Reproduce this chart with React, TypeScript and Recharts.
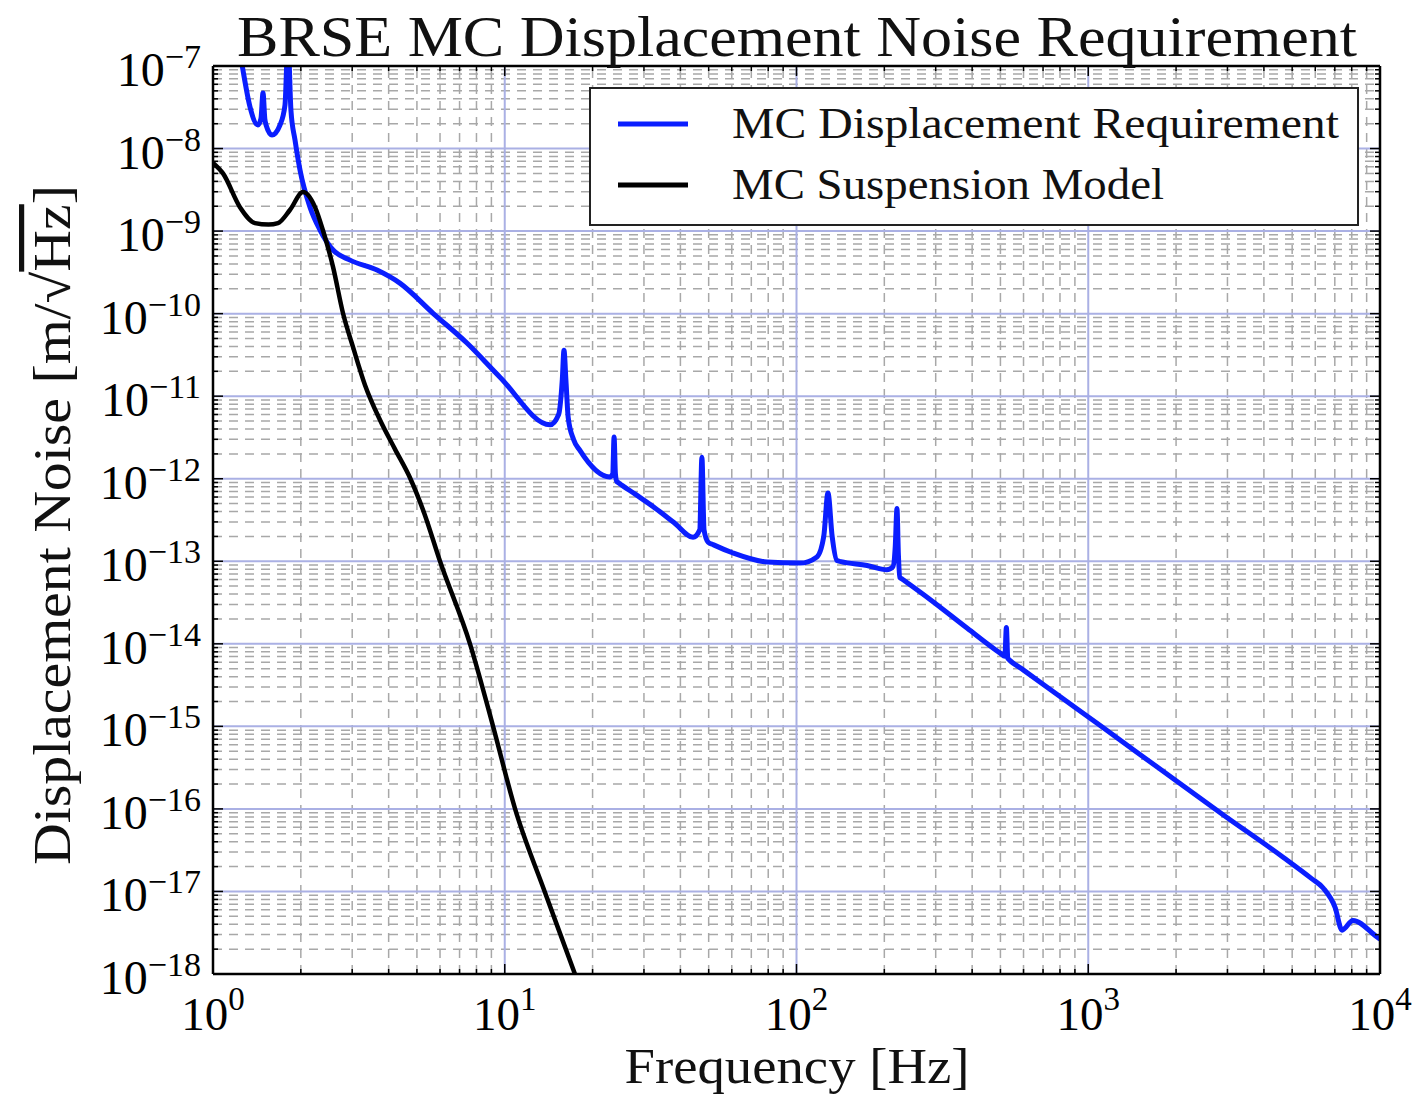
import React from 'react';
import { LineChart, Line, XAxis, YAxis, ReferenceLine, Legend } from 'recharts';

// ---------- data ----------
const reqFreq = [
  1.2, 1.267, 1.339, 1.426, 1.46, 1.484, 1.505, 1.52, 1.593, 1.697, 1.765, 1.807, 1.85, 1.91, 1.987,
  2.15, 2.327, 2.58, 2.95, 3.65, 4.37, 5.68, 7.42, 9.63, 14.3, 15.3, 15.75, 15.96, 16.2, 16.5, 17.2,
  18.1, 22.9, 23.45, 23.7, 23.95, 24.2, 24.6, 28, 32.8, 38, 44.2, 46.6, 47.4, 48.2, 49.8, 52, 60.6, 79.2, 102.8, 117.5,
  124, 128.2, 132.5, 137.6, 142, 174.5, 204, 214, 218, 221, 223.5, 226, 230, 240, 287, 384, 499, 518, 524, 530, 536,
  600, 800, 1096, 1762, 2897, 4653, 5800, 6386, 7015, 7412, 8076, 9840, 10000,
];
const reqVal = [
  3e-7, 8.9e-8, 3.2e-8, 1.93e-8, 2.3e-8, 4.7e-8, 2.3e-8, 1.93e-8, 1.46e-8, 1.93e-8, 3.37e-8, 2e-7, 2.9e-8, 1.27e-8, 5.5e-9,
  1.95e-9, 1.03e-9, 5.9e-10, 4.45e-10, 3.37e-10, 2.34e-10, 1.01e-10, 4.4e-11, 1.7e-11, 4.5e-12, 6e-12, 1.6e-11, 3.6e-11, 1.6e-11, 5.5e-12, 3.0e-12,
  2.2e-12, 1.05e-12, 1.15e-12, 3.2e-12, 1.15e-12, 9.3e-13, 8.9e-13, 6.5e-13, 4.4e-13, 2.95e-13, 1.95e-13, 2.4e-13, 1.82e-12, 2.4e-13, 1.7e-13, 1.58e-13, 1.26e-13, 9.8e-14, 9.5e-14, 1.13e-13,
  2.0e-13, 6.7e-13, 2.0e-13, 1.02e-13, 9.9e-14, 8.9e-14, 7.9e-14, 8.6e-14, 1.5e-13, 4.35e-13, 1.2e-13, 6.4e-14, 6.1e-14, 5.47e-14, 3.44e-14, 1.55e-14, 7.7e-15, 7.05e-15, 1.58e-14, 6.65e-15, 6.4e-15,
  4.8e-15, 2.3e-15, 1.03e-15, 3.04e-16, 8.5e-17, 2.6e-17, 1.45e-17, 1.1e-17, 6.4e-18, 3.4e-18, 4.45e-18, 2.75e-18, 2.65e-18,
];
const suspFreq = [
  1.0, 1.082, 1.237, 1.393, 1.55, 1.67, 1.835, 2.035, 2.237, 2.38, 2.58, 2.79, 3.02, 3.32, 3.74,
  4.2, 4.75, 5.3, 6.0, 7.6, 9.12, 10.85, 13.7, 17.4, 18.5,
];
const suspVal = [
  6.7e-9, 5.0e-9, 1.95e-9, 1.25e-9, 1.2e-9, 1.25e-9, 1.8e-9, 2.97e-9, 1.95e-9, 1.03e-9, 3.66e-10, 1.01e-10, 3.93e-11, 1.36e-11, 5.1e-12,
  2.3e-12, 1.0e-12, 3.8e-13, 1.0e-13, 1.0e-14, 1.0e-15, 1.0e-16, 1.0e-17, 1.0e-18, 5.5e-19,
];
const xMajorTicks = [1, 10, 100, 1000, 10000];
const yMajorTicks = [1e-18, 1e-17, 1e-16, 1e-15, 1e-14, 1e-13, 1e-12, 1e-11, 1e-10, 1e-9, 1e-8, 1e-7];
const minorMultipliers = [2, 3, 4, 5, 6, 7, 8, 9];
const seriesNames = ['MC Displacement Requirement', 'MC Suspension Model'];
const seriesColors = ['#0a1eff', '#000000'];
const titleText = 'BRSE MC Displacement Noise Requirement';
const xLabelText = 'Frequency [Hz]';

// ---------- derived ----------
const reqData = reqFreq.map((f, i) => ({ f, v: reqVal[i] }));
const suspData = suspFreq.map((f, i) => ({ f, v: suspVal[i] }));
const xMinorTicks = xMajorTicks.slice(0, -1).flatMap((d) => minorMultipliers.map((m) => m * d));
const yMinorTicks = yMajorTicks.slice(0, -1).flatMap((d) => minorMultipliers.map((m) => m * d));
const xAllTicks = [...xMajorTicks, ...xMinorTicks].sort((a, b) => a - b);
const yAllTicks = [...yMajorTicks, ...yMinorTicks].sort((a, b) => a - b);

const FONT = '"Liberation Serif", "DejaVu Serif", serif';
const MAJOR_LEN = 10;
const MINOR_LEN = 5;

const isMajor = (v: number) => Math.abs(Math.log10(v) - Math.round(Math.log10(v))) < 1e-6;
const fmtExp = (v: number) => {
  const e = Math.round(Math.log10(v));
  return e < 0 ? '\u2212' + Math.abs(e) : String(e);
};

const BottomTick = (props: any) => {
  const { x, y, payload } = props;
  const v = payload.value;
  const major = isMajor(v);
  return (
    <g>
      <line x1={x} x2={x} y1={y} y2={y - (major ? MAJOR_LEN : MINOR_LEN)} stroke="#000" strokeWidth={1.5} />
      {major && (
        <text x={x} y={y + 56} textAnchor="middle" fontFamily={FONT} fontSize={47} fill="#000">
          10<tspan dy={-20} fontSize={33}>{fmtExp(v)}</tspan>
        </text>
      )}
    </g>
  );
};
const TopTick = (props: any) => {
  const { x, y, payload } = props;
  const major = isMajor(payload.value);
  return <line x1={x} x2={x} y1={y} y2={y + (major ? MAJOR_LEN : MINOR_LEN)} stroke="#000" strokeWidth={1.5} />;
};
const LeftTick = (props: any) => {
  const { x, y, payload } = props;
  const v = payload.value;
  const major = isMajor(v);
  return (
    <g>
      <line x1={x} x2={x + (major ? MAJOR_LEN : MINOR_LEN)} y1={y} y2={y} stroke="#000" strokeWidth={1.5} />
      {major && (
        <text x={x - 12} y={y + 20} textAnchor="end" fontFamily={FONT} fontSize={48} fill="#000">
          10<tspan dy={-18} fontSize={34}>{fmtExp(v)}</tspan>
        </text>
      )}
    </g>
  );
};
const RightTick = (props: any) => {
  const { x, y, payload } = props;
  const major = isMajor(payload.value);
  return <line x1={x} x2={x - (major ? MAJOR_LEN : MINOR_LEN)} y1={y} y2={y} stroke="#000" strokeWidth={1.5} />;
};

const LegendBox = () => (
  <svg width={770} height={139} style={{ display: 'block' }}>
    <rect x={1} y={1} width={768} height={137} fill="#fff" stroke="#222" strokeWidth={2} />
    <line x1={29} x2={99} y1={37} y2={37} stroke={seriesColors[0]} strokeWidth={5} />
    <text x={143} y={51} fontFamily={FONT} fontSize={44} fill="#111" textLength={607} lengthAdjust="spacingAndGlyphs">
      {seriesNames[0]}
    </text>
    <line x1={29} x2={99} y1={98} y2={98} stroke={seriesColors[1]} strokeWidth={5} />
    <text x={143} y={112} fontFamily={FONT} fontSize={44} fill="#111" textLength={432} lengthAdjust="spacingAndGlyphs">
      {seriesNames[1]}
    </text>
  </svg>
);

export default function App() {
  return (
    <div style={{ position: 'absolute', left: 0, top: 0, width: 1415, height: 1096, background: '#fff' }}>
      <LineChart width={1415} height={1096} margin={{ top: 65, right: 34, bottom: 121, left: 212 }}>
        <XAxis
          xAxisId="b"
          orientation="bottom"
          type="number"
          dataKey="f"
          scale="log"
          domain={[1, 10000]}
          allowDataOverflow
          ticks={xAllTicks}
          interval={0}
          height={1}
          tickSize={0}
          tickMargin={0}
          tick={BottomTick}
          tickLine={false}
          axisLine={{ stroke: '#000', strokeWidth: 2.5 }}
        />
        <XAxis
          xAxisId="t"
          orientation="top"
          type="number"
          dataKey="f"
          scale="log"
          domain={[1, 10000]}
          allowDataOverflow
          ticks={xAllTicks}
          interval={0}
          height={1}
          tickSize={0}
          tickMargin={0}
          tick={TopTick}
          tickLine={false}
          axisLine={{ stroke: '#000', strokeWidth: 2.5 }}
        />
        <YAxis
          yAxisId="l"
          orientation="left"
          type="number"
          dataKey="v"
          scale="log"
          domain={[1e-18, 1e-7]}
          allowDataOverflow
          ticks={yAllTicks}
          interval={0}
          width={1}
          tickSize={0}
          tickMargin={0}
          tick={LeftTick}
          tickLine={false}
          axisLine={{ stroke: '#000', strokeWidth: 2.5 }}
        />
        <YAxis
          yAxisId="r"
          orientation="right"
          type="number"
          dataKey="v"
          scale="log"
          domain={[1e-18, 1e-7]}
          allowDataOverflow
          ticks={yAllTicks}
          interval={0}
          width={1}
          tickSize={0}
          tickMargin={0}
          tick={RightTick}
          tickLine={false}
          axisLine={{ stroke: '#000', strokeWidth: 2.5 }}
        />
        {yMinorTicks.map((v) => (
          <ReferenceLine key={'ym' + v} y={v} xAxisId="b" yAxisId="l" stroke="#a8a8a8" strokeWidth={1.5} strokeDasharray="9 7" />
        ))}
        {xMinorTicks.map((v) => (
          <ReferenceLine key={'xm' + v} x={v} xAxisId="b" yAxisId="l" stroke="#a8a8a8" strokeWidth={1.5} strokeDasharray="9 7" />
        ))}
        {yMajorTicks.map((v) => (
          <ReferenceLine key={'yM' + v} y={v} xAxisId="b" yAxisId="l" stroke="#aab0e4" strokeWidth={2} />
        ))}
        {xMajorTicks.map((v) => (
          <ReferenceLine key={'xM' + v} x={v} xAxisId="b" yAxisId="l" stroke="#aab0e4" strokeWidth={2} />
        ))}
        <Line
          data={reqData}
          dataKey="v"
          name={seriesNames[0]}
          xAxisId="b"
          yAxisId="l"
          type="monotone"
          stroke={seriesColors[0]}
          strokeWidth={5}
          dot={false}
          activeDot={false}
          isAnimationActive={false}
        />
        <Line
          data={suspData}
          dataKey="v"
          name={seriesNames[1]}
          xAxisId="b"
          yAxisId="l"
          type="monotone"
          stroke={seriesColors[1]}
          strokeWidth={4.5}
          dot={false}
          activeDot={false}
          isAnimationActive={false}
        />
        <Legend
          layout="vertical"
          verticalAlign="middle"
          align="center"
          content={() => <LegendBox />}
          wrapperStyle={{ position: 'absolute', left: 589, top: 87, width: 770, height: 139 }}
        />
      </LineChart>
      <svg
        width={1415}
        height={1096}
        style={{ position: 'absolute', left: 0, top: 0, pointerEvents: 'none' }}
      >
        <text x={797} y={56} textAnchor="middle" fontFamily={FONT} fontSize={57} fill="#111" textLength={1120} lengthAdjust="spacingAndGlyphs">
          {titleText}
        </text>
        <text x={797} y={1083} textAnchor="middle" fontFamily={FONT} fontSize={50} fill="#111" textLength={345} lengthAdjust="spacingAndGlyphs">
          {xLabelText}
        </text>
        <text
          transform="translate(70,525) rotate(-90)"
          textAnchor="middle"
          fontFamily={FONT}
          fontSize={52}
          fill="#111"
          textLength={680}
          lengthAdjust="spacingAndGlyphs"
        >
          Displacement Noise [m/{'\u221A'}
          <tspan style={{ textDecoration: 'overline' }}>Hz</tspan>]
        </text>
      </svg>
    </div>
  );
}
